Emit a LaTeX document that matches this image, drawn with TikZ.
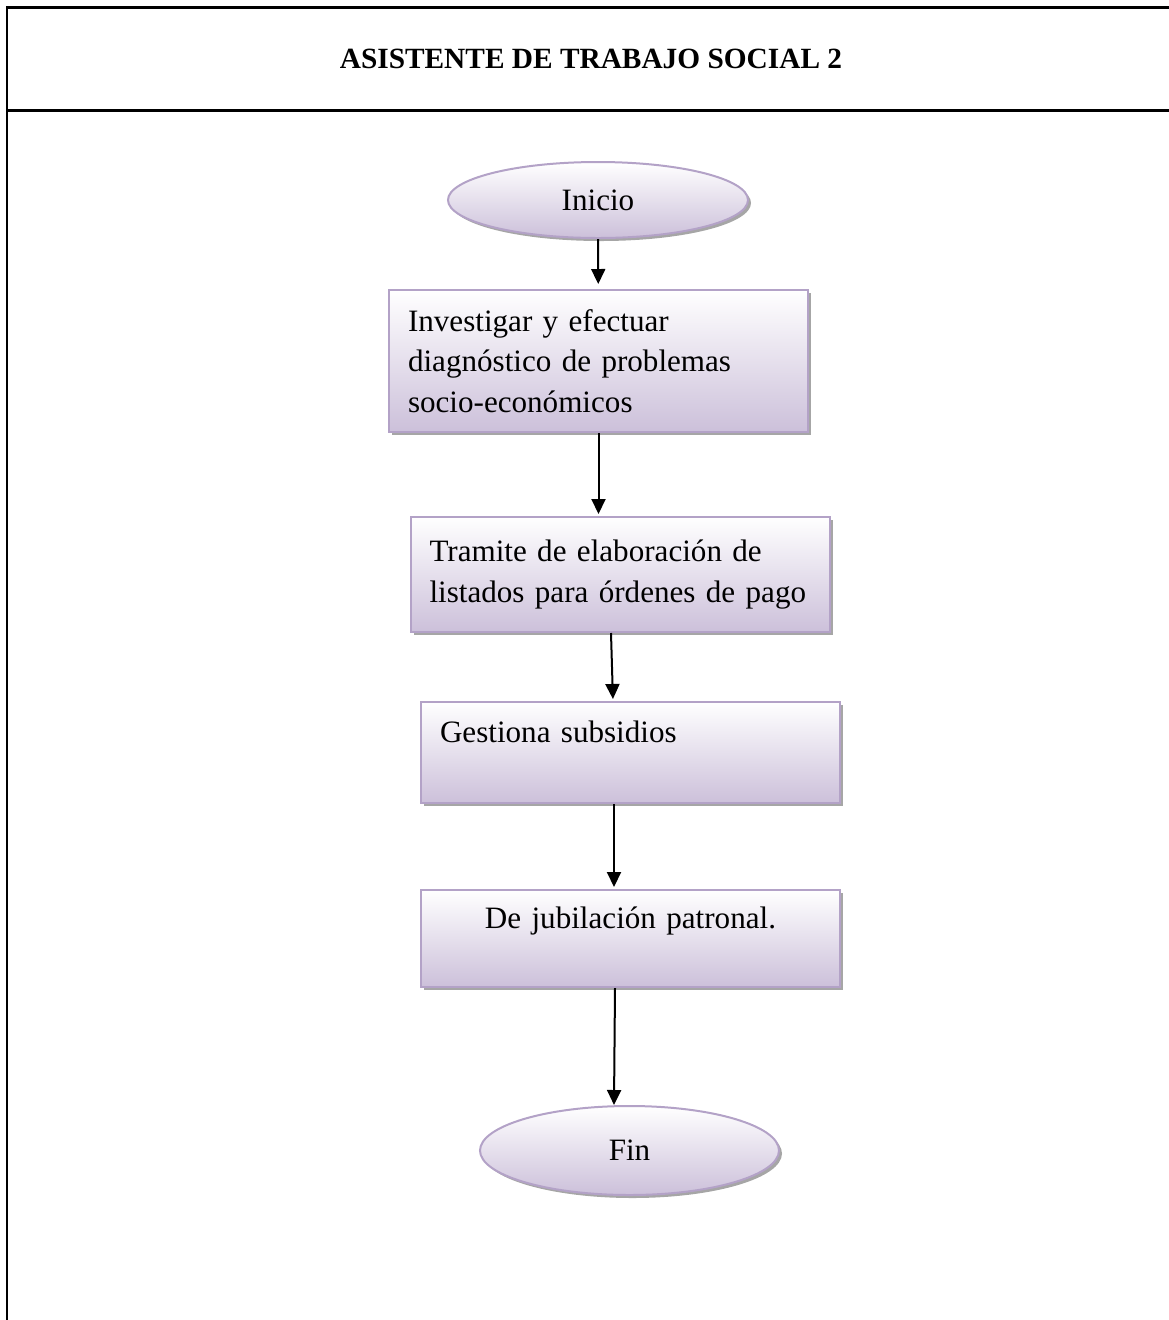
\documentclass[tikz,border=0pt]{standalone}
\usepackage{fontspec}
\setmainfont{Liberation Serif}
\usetikzlibrary{shapes.geometric, arrows.meta, shadows}

\definecolor{lavborde}{HTML}{B3A2C7}
\definecolor{lavfondo}{HTML}{CCC0DA}

\begin{document}
\begin{tikzpicture}[
    terminal/.style={ellipse, draw=lavborde, line width=0.04cm,
        top color=white, bottom color=lavfondo, minimum width=6cm, minimum height=1.52cm,
        drop shadow={shadow xshift=0.06cm, shadow yshift=-0.06cm, fill=black!35, opacity=1},
        font=\fontsize{17.7}{23}\selectfont},
    proceso/.style={rectangle, draw=lavborde, line width=0.04cm,
        top color=white, bottom color=lavfondo, minimum width=8.38cm,
        text width=7.62cm, inner xsep=0.38cm, align=left,
        drop shadow={shadow xshift=0.06cm, shadow yshift=-0.06cm, fill=black!35, opacity=1},
        font=\fontsize{17.7}{23.2}\selectfont},
    flecha/.style={-{Triangle[length=0.3cm, width=0.28cm]}, line width=0.04cm, black},
    marco/.style={line width=0.06cm, black}
]
\useasboundingbox (0,0) rectangle (23.38,-26.4);

% --- Marco y encabezado ---
\draw[marco] (0.14,-26.4) -- (0.14,-0.14) -- (23.38,-0.14);
\draw[marco] (0.14,-2.2) -- (23.38,-2.2);
\node[anchor=base, font=\fontsize{16.7}{20}\selectfont\bfseries] (titulo) at (11.82,-1.36)
    {ASISTENTE DE TRABAJO SOCIAL 2};

% --- Inicio y pasos ---
\node[terminal] (inicio) at (11.96,-4.0) {Inicio};
\node[proceso, minimum height=2.84cm] (investigar) at (11.97,-7.22)
    {Investigar y efectuar\\diagnóstico de problemas\\socio-económicos};
\node[proceso, minimum height=2.3cm] (tramite) at (12.40,-11.49)
    {Tramite de elaboración de\\listados para órdenes de pago};
\node[proceso, minimum height=2.02cm] (gestiona) at (12.61,-15.05)
    {Gestiona subsidios\\\mbox{}};
\node[proceso, minimum height=1.94cm, align=center] (jubilacion) at (12.61,-18.77)
    {De jubilación patronal.\\\mbox{}};
\node[terminal, minimum width=5.98cm, minimum height=1.78cm] (fin) at (12.59,-23.01) {Fin};

% --- Flechas ---
\draw[flecha, shorten >=0.1cm] (inicio) -- (investigar);
\draw[flecha, shorten >=0.04cm] (investigar.south) -- (investigar.south |- tramite.north);
\draw[flecha, shorten >=0.04cm] ([xshift=-0.18cm]tramite.south) -- ([xshift=-0.35cm]gestiona.north);
\draw[flecha, shorten >=0.04cm] ([xshift=-0.33cm]gestiona.south) -- ([xshift=-0.33cm]jubilacion.north);
\draw[flecha] ([xshift=-0.31cm]jubilacion.south) -- ([xshift=-0.31cm]fin.north);

\end{tikzpicture}
\end{document}
